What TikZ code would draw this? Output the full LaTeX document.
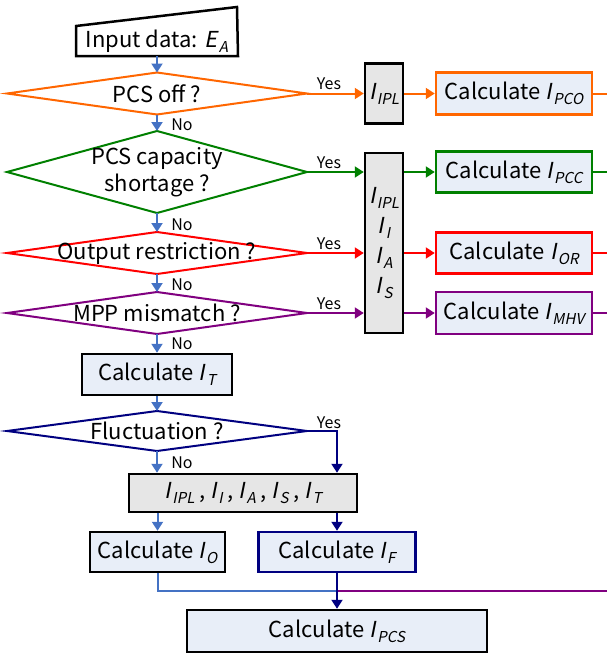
\documentclass[tikz,border=0pt]{standalone}
\usepackage{fontspec}
\setmainfont{Noto Sans CJK JP}[AutoFakeSlant=0.2]
\usepackage{tikz}
\usetikzlibrary{arrows.meta,backgrounds}

\definecolor{pcsorange}{RGB}{255,102,0}
\definecolor{pcsgreen}{RGB}{0,128,0}
\definecolor{pcsred}{RGB}{255,0,0}
\definecolor{pcspurple}{RGB}{128,0,128}
\definecolor{pcsnavy}{RGB}{0,0,128}
\definecolor{flowblue}{RGB}{68,114,196}
\definecolor{boxblue}{RGB}{232,238,248}
\definecolor{boxgray}{RGB}{230,230,230}

\newcommand{\varsub}[2]{\textit{#1}\kern1.5pt\raisebox{-5pt}{\fontsize{15pt}{15pt}\selectfont\textit{#2}}}
\newcommand{\cur}[1]{\varsub{I}{#1}}

\tikzset{
  box/.style={draw, line width=2.5pt, fill=boxblue, inner sep=0pt},
  datbox/.style={draw, line width=2.5pt, fill=boxgray, inner sep=0pt, align=center},
  decision/.style={minimum width=298pt, minimum height=40pt, inner sep=0pt, align=center},
  flow/.style={color=flowblue, line width=2pt, -{Triangle[length=9pt,width=11pt]}},
  yesno/.style={font=\fontsize{16pt}{16pt}\selectfont, inner sep=0pt},
}

\begin{document}
\begin{tikzpicture}[x=1pt, y=-1pt, line width=2pt, font=\fontsize{22pt}{27pt}\selectfont]
    \useasboundingbox (0,0) rectangle (607,653);
    \coordinate (rim) at (607,0);
    \coordinate (join) at (337,591);

    % draw main column
    \node[minimum width=160pt, minimum height=28pt, inner sep=0pt] (input) at (157,41) {Input data: \varsub{E}{A}};
    \node[decision] (off) at (157,93.5) {PCS off ?};
    \node[decision, minimum height=80pt] (short) at (157,172) {PCS capacity\\shortage ?};
    \node[decision] (restr) at (157,253) {Output restriction ?};
    \node[decision] (mpp) at (157,313) {MPP mismatch ?};
    \node[box, minimum width=150pt, minimum height=41pt] (calcT) at (157,374.5) {Calculate \cur{T}};
    \node[decision, minimum height=38pt] (fluct) at (157,431) {Fluctuation ?};
    \node[datbox, minimum width=228pt, minimum height=38pt] (list) at (243,493) {\cur{IPL} , \cur{I} , \cur{A} , \cur{S} , \cur{T}};
    \node[box, minimum width=135pt, minimum height=40pt] (calcO) at (157.5,552) {Calculate \cur{O}};
    \node[box, draw=pcsnavy, minimum width=157pt, minimum height=40pt] (calcF) at (337,552) {Calculate \cur{F}};
    \node[box, minimum width=300pt, minimum height=42pt] (pcs) at (337,631) {Calculate \cur{PCS}};

    % draw right column
    \node[datbox, minimum width=38pt, minimum height=60pt] (ipl) at (384,93.5) {\cur{IPL}};
    \node[datbox, minimum width=38pt, minimum height=180pt] (ipls) at (384,243) {\cur{IPL}\\[3pt]\cur{I}\\[3pt]\cur{A}\\[3pt]\cur{S}};
    \node[box, draw=pcsorange, minimum width=156pt, minimum height=42pt] (pco) at (514,93.5) {Calculate \cur{PCO}};
    \node[box, draw=pcsgreen, minimum width=156pt, minimum height=41pt] (pcc) at (514,172) {Calculate \cur{PCC}};
    \node[box, draw=pcsred, minimum width=156pt, minimum height=41pt] (or) at (514,253) {Calculate \cur{OR}};
    \node[box, draw=pcspurple, minimum width=156pt, minimum height=42pt] (mhv) at (514,313) {Calculate \cur{MHV}};

    % draw input shape and diamonds behind the text
    \begin{scope}[on background layer, line width=2pt]
        \draw[line width=2.5pt, fill=white] (input.south west) -- (input.south east) -- (237,7) -- (input.north west) -- cycle;
        \foreach \n/\c in {off/pcsorange, short/pcsgreen, restr/pcsred, mpp/pcspurple, fluct/pcsnavy}
            \draw[\c, line width=2pt, fill=white] (\n.west) -- (\n.north) -- (\n.east) -- (\n.south) -- cycle;
    \end{scope}

    % draw main flow
    \draw[flow] (input.south) -- (off.north);
    \draw[flow] (off.south) -- (short.north);
    \draw[flow] (short.south) -- (restr.north);
    \draw[flow] (restr.south) -- (mpp.north);
    \draw[flow] (mpp.south) -- (calcT.north);
    \draw[flow] (calcT.south) -- (fluct.north);
    \draw[flow] (fluct.south) -- (fluct.south |- list.north);
    \draw[flow] (calcO.north |- list.south) -- (calcO.north);
    \draw[flowblue] (calcO.south) |- (join);

    % draw fluctuation branch
    \draw[flow, pcsnavy] (fluct.east) -| (calcF.north |- list.north);
    \draw[flow, pcsnavy] (calcF.north |- list.south) -- (calcF.north);
    \draw[pcspurple] (join -| rim) -- (join);
    \draw[flow, pcsnavy] (calcF.south) -- (pcs.north);

    % draw yes branches
    \draw[flow, pcsorange] (off.east) -- (ipl.west);
    \draw[flow, pcsorange] (ipl.east) -- (pco.west);
    \draw[pcsorange] (pco.east) -- (pco.east -| rim);
    \draw[flow, pcsgreen] (short.east) -- (short.east -| ipls.west);
    \draw[flow, pcsgreen] (short.east -| ipls.east) -- (pcc.west);
    \draw[pcsgreen] (pcc.east) -- (pcc.east -| rim);
    \draw[flow, pcsred] (restr.east) -- (restr.east -| ipls.west);
    \draw[flow, pcsred] (restr.east -| ipls.east) -- (or.west);
    \draw[pcsred] (or.east) -- (or.east -| rim);
    \draw[flow, pcspurple] (mpp.east) -- (mpp.east -| ipls.west);
    \draw[flow, pcspurple] (mpp.east -| ipls.east) -- (mhv.west);
    \draw[pcspurple] (mhv.east) -- (mhv.east -| rim);

    % draw yes / no labels
    \foreach \y [count=\i] in {84,163,244,304,423}
        \node[yesno] (yes\i) at (329,\y) {Yes};
    \foreach \y [count=\i] in {125,225,285,344,463}
        \node[yesno] (no\i) at (182,\y) {No};

\end{tikzpicture}
\end{document}
